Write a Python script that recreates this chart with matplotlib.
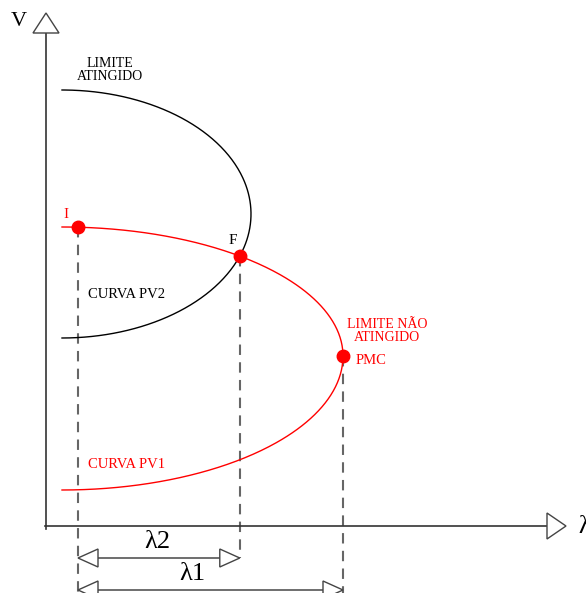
import numpy as np
import matplotlib
matplotlib.use("Agg")
import matplotlib.pyplot as plt
from matplotlib.patches import Polygon

# PV curves as half-ellipses: x = x0 + a*cos(t), y = yc + b*sin(t)
X0 = 16
PV1 = {"a": 281, "yc": 170, "b_up": 129, "b_dn": 134}   # limite nao atingido
PV2 = {"a": 189, "yc": 312, "b_up": 124, "b_dn": 124}   # limite atingido
X_I = 32                      # initial operating point on PV1
Y_LAMBDA2, Y_LAMBDA1 = -32, -64
RED = "#ff0000"
GREY = "#666666"

plt.rcParams["font.family"] = ["Liberation Serif", "DejaVu Serif"]


def nose(c, n=400):
    t = np.linspace(-np.pi / 2, np.pi / 2, n)
    b = np.where(t >= 0, c["b_up"], c["b_dn"])
    return X0 + c["a"] * np.cos(t), c["yc"] + b * np.sin(t)


def upper(c, x):
    return c["yc"] + c["b_up"] * np.sqrt(1 - ((x - X0) / c["a"]) ** 2)


def lower(c, x):
    return c["yc"] - c["b_dn"] * np.sqrt(1 - ((x - X0) / c["a"]) ** 2)


def open_arrow(ax, tip, direction, length=20, half=9, axis="x"):
    x, y = tip
    if axis == "x":
        pts = [(x, y), (x - direction * length, y + half), (x - direction * length, y - half)]
    else:
        pts = [(x, y), (x + half, y - direction * length), (x - half, y - direction * length)]
    ax.add_patch(Polygon(pts, closed=True, facecolor="white", edgecolor="#444444",
                         lw=1.0, zorder=4))


# points: I, F (intersection PV1 upper / PV2 lower), PMC (nose of PV1)
xs = np.linspace(X0 + 1, X0 + PV2["a"] - 0.01, 5000)
diff = upper(PV1, xs) - lower(PV2, xs)
xf = xs[np.argmin(np.abs(diff))]
pt_I = (X_I, upper(PV1, X_I))
pt_F = (xf, upper(PV1, xf))
pt_PMC = (X0 + PV1["a"], PV1["yc"])

fig = plt.figure(figsize=(5.86, 5.93), dpi=100)
ax = fig.add_axes([0, 0, 1, 1])
ax.set_xlim(-46, 540)
ax.set_ylim(-67, 526)
ax.axis("off")

# axes with open arrowheads
ax.plot([0, 0], [-3, 493], color="#333333", lw=1.2, zorder=3)
ax.plot([-1, 501], [0, 0], color="#333333", lw=1.2, zorder=3)
open_arrow(ax, (0, 513), 1, length=20, half=13, axis="y")
open_arrow(ax, (520, 0), 1, length=19, half=13, axis="x")
ax.text(-27, 504, "V", fontsize=16, ha="center", va="center")
ax.text(532, -1, "λ", fontsize=18, ha="left", va="center")

# curves
x1, y1 = nose(PV1)
x2, y2 = nose(PV2)
ax.plot(x2, y2, color="black", lw=1.0, zorder=2)
ax.plot(x1, y1, color=RED, lw=1.0, zorder=2)

# dashed projections
dash = dict(color=GREY, lw=1.5, ls=(0, (5, 3.5)), zorder=1)
ax.plot([pt_I[0]] * 2, [pt_I[1], -67], **dash)
ax.plot([pt_F[0]] * 2, [pt_F[1], Y_LAMBDA2], **dash)
ax.plot([pt_PMC[0]] * 2, [pt_PMC[1], -67], **dash)

# dimension lines
for y, x_end, lab, lx in [(Y_LAMBDA2, pt_F[0], "λ2", 111), (Y_LAMBDA1, pt_PMC[0], "λ1", 146)]:
    ax.plot([pt_I[0] + 20, x_end - 20], [y, y], color="#555555", lw=1.2, zorder=3)
    open_arrow(ax, (pt_I[0], y), -1)
    open_arrow(ax, (x_end, y), 1)
    ax.text(lx, y + 16, lab, fontsize=19, ha="center", va="center")

# markers
for p in (pt_I, pt_F, pt_PMC):
    ax.plot(*p, "o", color=RED, ms=9, zorder=5)

# annotations
ax.text(64, 456, "LIMITE\nATINGIDO", fontsize=10, ha="center", va="center", linespacing=0.95)
ax.text(20, 312, "I", fontsize=11, color=RED, ha="center", va="center")
ax.text(187, 286, "F", fontsize=11, ha="center", va="center")
ax.text(42, 231, "CURVA PV2", fontsize=10.5, ha="left", va="center")
ax.text(341, 195, "LIMITE NÃO\nATINGIDO", fontsize=10, color=RED, ha="center",
        va="center", linespacing=0.95)
ax.text(310, 165, "PMC", fontsize=10.5, color=RED, ha="left", va="center")
ax.text(42, 62, "CURVA PV1", fontsize=10.5, color=RED, ha="left", va="center")

fig.savefig("out.png", dpi=100)
